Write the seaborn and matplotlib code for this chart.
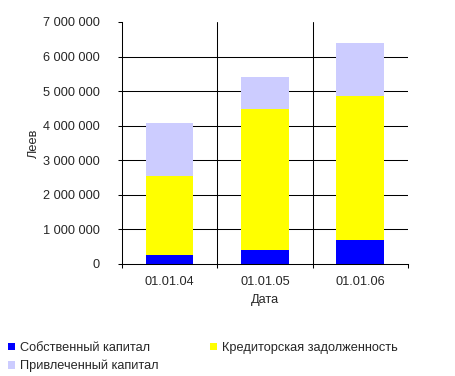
import pandas as pd
import numpy as np
import matplotlib
matplotlib.use("Agg")
import matplotlib.pyplot as plt
import seaborn as sns
from matplotlib.ticker import FuncFormatter, FixedLocator
from matplotlib.patches import Patch

# Data (leva)
dates = ['01.01.04', '01.01.05', '01.01.06']
own_capital = [260000, 405000, 690000]
payables = [2290000, 4075000, 4165000]
borrowed = [1525000, 920000, 1535000]

series_names = ['Собственный капитал', 'Кредиторская задолженность', 'Привлеченный капитал']
series_colors = ['#0000FF', '#FFFF00', '#CCCCFF']

sns.set_style('white')
plt.rcParams['font.family'] = ['Liberation Sans', 'DejaVu Sans']
plt.rcParams['font.size'] = 9.2

df = pd.DataFrame({'date': dates, 'own': own_capital, 'pay': payables, 'bor': borrowed})
df['c1'] = df['own']
df['c2'] = df['c1'] + df['pay']
df['c3'] = df['c2'] + df['bor']

fig = plt.figure(figsize=(4.56, 3.76), dpi=100)
ax = fig.add_axes([122 / 456, 1 - 264 / 376, 286 / 456, 242 / 376])

# stacked bars: draw cumulative totals back to front
for col, color in zip(['c3', 'c2', 'c1'], series_colors[::-1]):
    sns.barplot(data=df, x='date', y=col, color=color, width=0.5, saturation=1,
                errorbar=None, linewidth=0, ax=ax, order=dates)

ax.set_xlim(-0.5, len(dates) - 0.5)
ax.set_ylim(0, 7000000)
ax.yaxis.set_major_locator(FixedLocator(np.arange(0, 7000001, 1000000)))
ax.yaxis.set_major_formatter(FuncFormatter(lambda v, p: f"{int(v):,}".replace(',', ' ')))

# category boundaries as minor ticks / vertical lines
ax.xaxis.set_minor_locator(FixedLocator(np.arange(-0.5, len(dates), 1.0)))
ax.tick_params(axis='x', which='major', length=0, pad=8.5, labelsize=9.2)
ax.tick_params(axis='x', which='minor', length=3, width=0.75, color='black', direction='out')
ax.tick_params(axis='y', length=3, width=0.75, color='black', direction='out', pad=13, labelsize=9.2)
ax.tick_params(axis='y', left=True)
ax.tick_params(axis='x', which='minor', bottom=True)

ax.set_axisbelow(True)
ax.grid(axis='y', color='black', linewidth=0.75)
ax.get_ygridlines()[-1].set_visible(False)
ax.get_ygridlines()[0].set_visible(False)
for xb in np.arange(0.5, len(dates) - 1, 1.0):
    ax.axvline(xb, color='black', linewidth=0.75, zorder=0.5)

for s in ['top', 'right']:
    ax.spines[s].set_visible(False)
for s in ['left', 'bottom']:
    ax.spines[s].set_color('black')
    ax.spines[s].set_linewidth(0.75)

ax.set_xlabel('Дата', fontsize=9.2)
ax.set_ylabel('Леев', fontsize=9.2)
ax.xaxis.set_label_coords(0.5, (264 - 294) / 242)
ax.yaxis.set_label_coords((40 - 122) / 286, 0.5)

# legend, column-major order to get two items on the first row
handles = [Patch(facecolor=c, edgecolor='none') for c in series_colors]
order = [0, 2, 1]
fig.legend([handles[i] for i in order], [series_names[i] for i in order],
           loc='upper left', bbox_to_anchor=(8 / 456, 1 - 342 / 376), ncol=2,
           frameon=False, fontsize=9.2, handlelength=0.55, handleheight=0.55,
           handletextpad=0.4, columnspacing=4.0, labelspacing=0.45,
           borderaxespad=0, borderpad=0)

fig.savefig('out.png', dpi=100)
